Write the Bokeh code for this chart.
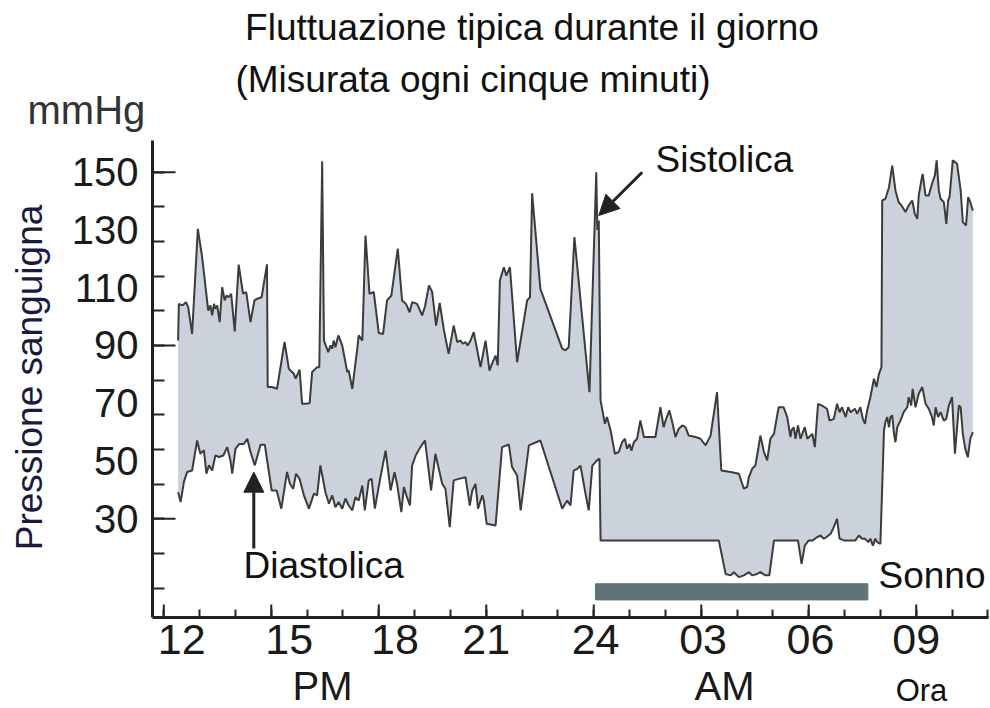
import math
from bokeh.plotting import figure
from bokeh.models import Range1d, FixedTicker, Label, Arrow, NormalHead
from bokeh.embed import file_html
from bokeh.resources import INLINE

# ---------------- data (hours from noon of day 1, mmHg) ----------------
sys_hours = [12.40, 12.42, 12.53, 12.62, 12.68, 12.79, 12.95, 13.07, 13.24, 13.30, 13.35, 13.40, 13.44, 13.49,
             13.56, 13.63, 13.70, 13.75, 13.81, 13.88, 13.98, 14.09, 14.21, 14.30, 14.42, 14.53, 14.61, 14.73,
             14.88, 14.90, 15.02, 15.16, 15.37, 15.49, 15.63, 15.68, 15.79, 15.86, 15.95, 16.07, 16.14, 16.28,
             16.34, 16.42, 16.47, 16.59, 16.65, 16.70, 16.74, 16.79, 16.87, 16.98, 17.12, 17.16, 17.26, 17.40,
             17.44, 17.54, 17.63, 17.74, 17.86, 18.00, 18.12, 18.23, 18.35, 18.53, 18.65, 18.76, 18.86, 18.93,
             19.07, 19.21, 19.29, 19.40, 19.49, 19.60, 19.70, 19.82, 19.95, 20.09, 20.19, 20.28, 20.35, 20.42,
             20.48, 20.56, 20.65, 20.84, 20.98, 21.09, 21.16, 21.26, 21.32, 21.38, 21.49, 21.56, 21.66, 21.86,
             22.14, 22.22, 22.28, 22.51, 23.12, 23.21, 23.30, 23.46, 23.88, 24.07, 24.10, 24.14, 24.19, 24.31,
             24.37, 24.47, 24.59, 24.70, 24.79, 24.87, 24.93, 25.00, 25.05, 25.12, 25.21, 25.30, 25.40, 25.54,
             25.72, 25.86, 25.95, 26.02, 26.11, 26.19, 26.28, 26.37, 26.47, 26.56, 26.65, 26.84, 26.98, 27.12,
             27.26, 27.44, 27.56, 27.86, 28.05, 28.19, 28.28, 28.33, 28.42, 28.51, 28.56, 28.65, 28.75, 28.84,
             28.93, 29.03, 29.07, 29.16, 29.30, 29.40, 29.49, 29.52, 29.58, 29.63, 29.70, 29.77, 29.89, 29.96,
             30.10, 30.17, 30.26, 30.37, 30.51, 30.58, 30.70, 30.79, 30.86, 30.93, 31.03, 31.10, 31.17, 31.29,
             31.35, 31.44, 31.51, 31.57, 31.63, 31.72, 31.82, 31.89, 31.96, 32.03, 32.05, 32.14, 32.24, 32.33,
             32.42, 32.51, 32.59, 32.70, 32.79, 32.89, 32.96, 33.03, 33.07, 33.15, 33.18, 33.26, 33.35, 33.44,
             33.52, 33.57, 33.63, 33.68, 33.77, 33.84, 33.89, 33.93, 34.02, 34.14, 34.24, 34.30, 34.39, 34.45,
             34.51, 34.58]
sys_vals = [91.7, 104.4, 103.9, 105.0, 103.3, 94.0, 130.4, 120.6, 102.1, 103.9, 100.4, 104.4, 102.7, 103.9,
            98.1, 110.2, 105.6, 107.3, 106.7, 107.9, 94.9, 118.0, 108.0, 108.5, 98.1, 105.6, 106.2, 106.7,
            118.1, 75.6, 75.6, 75.0, 91.2, 81.9, 80.2, 78.5, 81.6, 69.8, 69.8, 70.0, 80.8, 82.5,
            82.5, 153.8, 91.7, 87.7, 90.0, 88.9, 91.7, 89.4, 93.5, 90.0, 80.8, 81.4, 75.0, 88.9,
            93.5, 91.7, 128.1, 107.9, 108.5, 94.3, 94.0, 105.6, 107.3, 123.5, 105.6, 104.4, 101.5, 105.0,
            104.4, 100.4, 103.5, 110.8, 108.5, 96.9, 104.7, 95.2, 87.1, 96.9, 91.2, 91.7, 90.6, 91.2,
            90.0, 91.7, 94.6, 82.5, 91.7, 81.3, 83.6, 86.5, 83.1, 112.5, 117.1, 114.2, 117.1, 84.2,
            105.6, 106.7, 142.7, 109.6, 88.9, 88.3, 89.4, 127.5, 73.8, 150.0, 130.0, 133.3, 71.0, 62.9,
            65.2, 60.6, 52.5, 53.1, 56.5, 57.7, 54.2, 55.9, 53.6, 56.5, 57.7, 64.0, 58.3, 58.3,
            58.3, 68.6, 61.7, 64.6, 67.5, 63.5, 58.3, 61.1, 62.3, 61.7, 58.8, 58.3, 57.7, 55.4,
            58.8, 73.8, 46.7, 46.1, 45.6, 40.4, 41.0, 44.4, 47.3, 48.4, 51.9, 58.8, 53.1, 50.2,
            57.7, 59.4, 62.3, 68.6, 68.6, 65.2, 58.3, 60.6, 61.7, 57.7, 62.3, 57.7, 61.7, 57.7,
            59.4, 54.8, 69.8, 69.2, 68.1, 64.0, 64.6, 69.8, 66.9, 68.6, 65.2, 68.6, 66.9, 68.1,
            66.3, 68.6, 64.6, 62.9, 67.5, 72.1, 78.5, 75.6, 80.2, 82.5, 140.2, 140.8, 144.8, 152.3,
            143.7, 139.6, 138.5, 136.2, 138.5, 140.2, 135.6, 133.9, 141.9, 147.7, 149.4, 141.9, 141.9, 146.0,
            148.9, 154.1, 143.7, 140.8, 139.6, 132.1, 140.2, 141.4, 154.1, 152.9, 143.7, 132.7, 131.6, 141.4,
            139.6, 136.7]

dia_hours = [12.40, 12.47, 12.56, 12.65, 12.79, 12.93, 13.02, 13.12, 13.19, 13.26, 13.35, 13.44, 13.54, 13.66,
             13.77, 13.86, 13.91, 14.00, 14.11, 14.23, 14.33, 14.42, 14.54, 14.70, 14.82, 15.01, 15.15, 15.28,
             15.44, 15.52, 15.61, 15.69, 15.79, 15.91, 16.05, 16.19, 16.28, 16.37, 16.51, 16.61, 16.70, 16.79,
             16.88, 16.98, 17.07, 17.16, 17.26, 17.35, 17.44, 17.54, 17.61, 17.72, 17.80, 17.89, 18.03, 18.19,
             18.33, 18.44, 18.51, 18.63, 18.70, 18.77, 18.87, 18.93, 19.03, 19.16, 19.29, 19.46, 19.58, 19.77,
             19.86, 19.98, 20.09, 20.23, 20.42, 20.54, 20.61, 20.70, 20.77, 20.89, 20.93, 21.01, 21.26, 21.44,
             21.63, 21.72, 21.86, 21.96, 22.19, 22.51, 23.12, 23.26, 23.35, 23.44, 23.54, 23.63, 23.77, 23.86,
             23.96, 24.09, 24.16, 24.19, 27.49, 27.68, 27.82, 27.91, 28.05, 28.19, 28.33, 28.42, 28.56, 28.65,
             28.79, 28.90, 29.03, 29.70, 29.80, 29.89, 30.00, 30.11, 30.23, 30.33, 30.42, 30.49, 30.61, 30.70,
             30.79, 30.86, 30.98, 31.30, 31.40, 31.49, 31.57, 31.66, 31.72, 31.79, 31.86, 31.91, 32.00, 32.10,
             32.14, 32.19, 32.24, 32.28, 32.33, 32.38, 32.42, 32.47, 32.56, 32.65, 32.75, 32.79, 32.86, 32.90,
             32.98, 33.07, 33.17, 33.26, 33.35, 33.44, 33.49, 33.54, 33.61, 33.68, 33.77, 33.84, 33.91, 34.00,
             34.08, 34.14, 34.19, 34.24, 34.30, 34.37, 34.44, 34.51, 34.58]
dia_vals = [39.2, 35.8, 42.7, 46.2, 46.7, 57.1, 52.5, 53.7, 45.6, 48.5, 46.7, 51.9, 51.4, 51.9,
            54.8, 50.2, 45.6, 54.2, 55.9, 55.9, 57.7, 53.1, 48.5, 55.6, 55.6, 39.8, 39.8, 33.5,
            46.2, 42.1, 40.4, 45.6, 43.8, 38.1, 33.5, 38.7, 38.1, 48.5, 39.2, 35.2, 38.1, 34.0,
            35.8, 33.5, 37.0, 34.6, 32.9, 37.5, 36.3, 41.5, 32.9, 43.3, 43.8, 33.5, 43.3, 53.6,
            39.8, 46.1, 42.1, 32.3, 41.0, 38.1, 34.6, 48.4, 51.9, 54.8, 57.1, 39.8, 52.5, 42.1,
            40.4, 27.1, 43.3, 43.8, 44.4, 34.6, 39.8, 42.1, 33.5, 38.1, 36.3, 28.3, 27.7, 54.8,
            55.7, 47.9, 45.0, 32.9, 55.4, 57.1, 33.5, 36.3, 34.6, 46.7, 47.3, 48.4, 38.6, 32.9,
            48.4, 50.2, 50.8, 22.5, 22.5, 10.9, 10.4, 11.5, 9.8, 10.4, 11.5, 10.4, 10.9, 11.5,
            10.4, 10.4, 22.5, 22.5, 14.4, 20.7, 22.5, 22.5, 23.6, 24.2, 23.1, 23.6, 24.8, 27.1,
            30.0, 23.1, 22.5, 22.5, 24.2, 23.1, 23.1, 21.9, 23.1, 20.7, 23.1, 21.9, 21.3, 60.6,
            63.5, 65.2, 61.7, 65.2, 65.8, 59.4, 56.5, 61.7, 64.0, 66.9, 68.6, 72.1, 69.2, 75.0,
            68.6, 73.3, 75.6, 69.8, 68.1, 65.2, 62.3, 68.6, 65.2, 66.9, 64.0, 64.6, 69.2, 72.1,
            52.5, 61.7, 69.2, 68.6, 59.4, 54.2, 51.3, 57.7, 60.0]

# sleep period (hours) and bar band (mmHg)
sleep_start, sleep_end = 24.05, 31.65
sleep_low, sleep_high = 1.9, 7.5

# axis ticks / labels
y_label_vals = [150, 130, 110, 90, 70, 50, 30]
y_minor_vals = [150, 138, 126, 114, 102, 90, 78, 66, 54, 42, 30, 18, 6]
y_long_vals = [150, 90, 30]
x_label_pos = [12.5, 15.5, 18.45, 21.0, 24.05, 27.05, 30.05, 33.0]
x_labels = ["12", "15", "18", "21", "24", "03", "06", "09"]
x_hour_ticks = list(range(12, 36))
x_tall_ticks = [12, 15, 18, 21, 24, 27, 30, 33]

# texts
title_text = "Fluttuazione tipica durante il giorno"
subtitle_text = "(Misurata ogni cinque minuti)"
unit_text = "mmHg"
ylabel_text = "Pressione sanguigna"
period_texts = ["PM", "AM", "Ora"]

FONT = "Liberation Sans"
W, H = 990, 708
PX_PER_HOUR, PX_PER_MMHG = 35.83, 2.888
REF_X, REF_Y = 163.3, 171.7          # canvas pixel of hour 12 / of 150 mmHg

def hx(px):   # canvas pixel -> hours (used for annotation placement only)
    return 12 + (px - REF_X) / PX_PER_HOUR

def vy(py):   # canvas pixel -> mmHg (used for annotation placement only)
    return 150 - (py - REF_Y) / PX_PER_MMHG

X0, X1 = hx(152), hx(988)       # axis extents
Y0, Y1 = vy(617), vy(140)

p = figure(width=W, height=H, x_range=Range1d(hx(0), hx(W)), y_range=Range1d(vy(H), vy(0)),
           output_backend="svg", toolbar_location=None,
           min_border=0, min_border_left=0, min_border_right=0, min_border_top=0, min_border_bottom=0)
p.grid.visible = False
p.outline_line_color = None

band_x = sys_hours + dia_hours[::-1]
band_y = sys_vals + dia_vals[::-1]
p.patch(band_x, band_y, fill_color="#cbd2dc", line_color=None)
p.line(sys_hours, sys_vals, line_color="#3c3c3c", line_width=2)
p.line(dia_hours, dia_vals, line_color="#3c3c3c", line_width=2)

p.quad(left=[sleep_start], right=[sleep_end], bottom=[sleep_low], top=[sleep_high],
       fill_color="#617378", line_color="#617378")

ax = p.xaxis[0]
ax.fixed_location = Y0
ax.bounds = (X0, X1)
ax.ticker = FixedTicker(ticks=x_label_pos, minor_ticks=x_hour_ticks)
ax.major_label_overrides = {pos: lab for pos, lab in zip(x_label_pos, x_labels)}
ax.major_tick_in = 0
ax.major_tick_out = 0
ax.minor_tick_in = 8
ax.minor_tick_out = 0
ax.minor_tick_line_width = 2
ax.minor_tick_line_color = "#222222"
ax.axis_line_width = 3
ax.axis_line_color = "#222222"
ax.major_label_text_font = FONT
ax.major_label_text_font_size = "43px"
ax.major_label_text_color = "#1a1a1a"
ax.major_label_standoff = 7

ay = p.yaxis[0]
ay.fixed_location = X0
ay.bounds = (Y0, Y1)
ay.ticker = FixedTicker(ticks=y_label_vals, minor_ticks=y_minor_vals)
ay.major_tick_in = 0
ay.major_tick_out = 0
ay.minor_tick_in = 12
ay.minor_tick_out = 0
ay.minor_tick_line_width = 2
ay.minor_tick_line_color = "#222222"
ay.axis_line_width = 3
ay.axis_line_color = "#222222"
ay.major_label_text_font = FONT
ay.major_label_text_font_size = "40px"
ay.major_label_text_color = "#1a1a1a"
ay.major_label_standoff = 14

xlen = 23 / PX_PER_HOUR
p.segment(x0=[X0] * len(y_long_vals), x1=[X0 + xlen] * len(y_long_vals), y0=y_long_vals, y1=y_long_vals,
          line_color="#222222", line_width=2)
ylen = 13 / PX_PER_MMHG
p.segment(x0=x_tall_ticks, x1=x_tall_ticks, y0=[Y0] * len(x_tall_ticks), y1=[Y0 + ylen] * len(x_tall_ticks),
          line_color="#222222", line_width=2)

def lab(px, py, text, size, align="left", color="#111111", angle=0.0):
    p.add_layout(Label(x=hx(px), y=vy(py), text=text, text_font=FONT, text_font_size=size, text_align=align,
                       text_baseline="middle", text_color=color, angle=angle))

lab(531.5, 26.8, title_text, "37px", "center")
lab(472.5, 78.8, subtitle_text, "37px", "center")
lab(27, 109.0, unit_text, "40px", "left", "#333333")
lab(28.5, 377, ylabel_text, "37px", "center", "#1a1a40", math.pi / 2)
lab(655, 159.1, "Sistolica", "37px")
lab(243, 565.1, "Diastolica", "37px")
lab(878, 575, "Sonno", "37px")
lab(322, 685, period_texts[0], "40px", "center", "#1a1a1a")
lab(724, 685, period_texts[1], "40px", "center", "#1a1a1a")
lab(921, 690, period_texts[2], "31px", "center")

p.add_layout(Arrow(end=NormalHead(size=20, fill_color="#222222", line_color="#222222"),
                   x_start=hx(641.7), y_start=vy(171.7), x_end=hx(598.3), y_end=vy(215),
                   line_width=3, line_color="#222222"))
p.add_layout(Arrow(end=NormalHead(size=20, fill_color="#222222", line_color="#222222"),
                   x_start=hx(253.3), y_start=vy(548), x_end=hx(253.3), y_end=vy(471.7),
                   line_width=3, line_color="#222222"))

open("out.html", "w").write(file_html(p, INLINE))
